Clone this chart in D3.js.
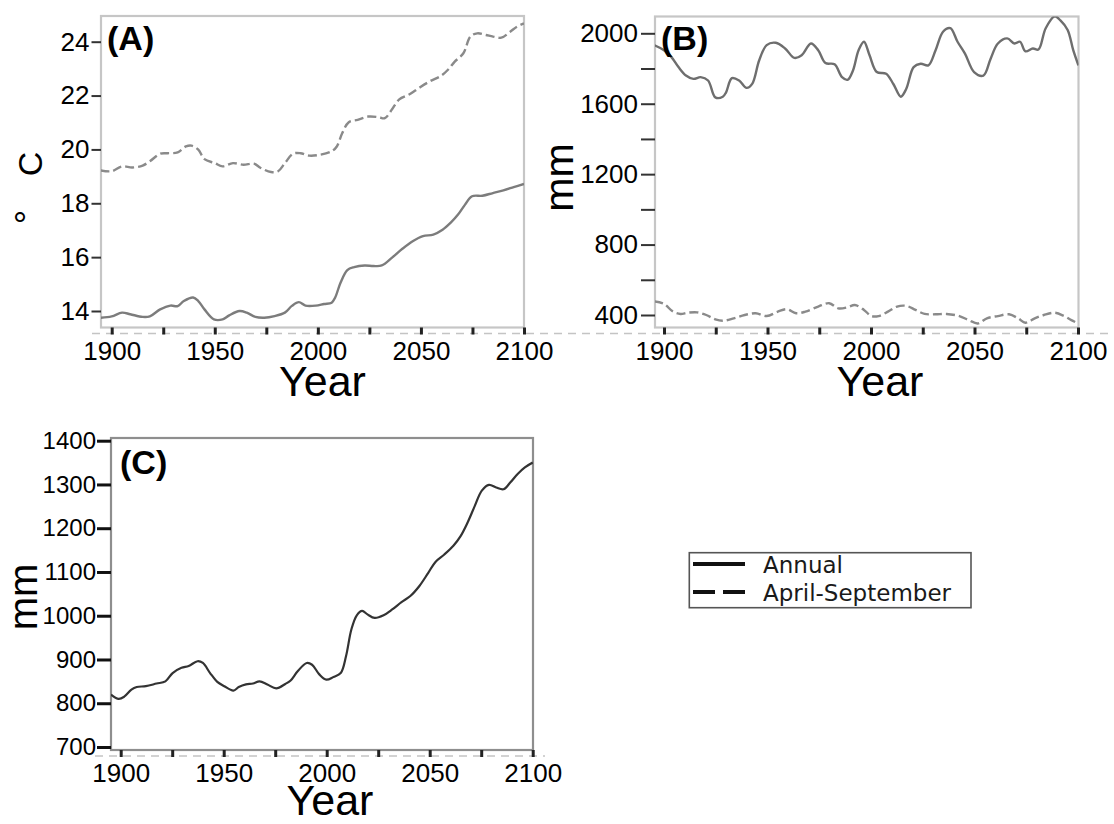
<!DOCTYPE html>
<html>
<head>
<meta charset="utf-8">
<script src="https://cdn.jsdelivr.net/npm/d3@7"></script>
<style>
  html, body { margin: 0; padding: 0; background: #fff; }
  svg { display: block; }
</style>
</head>
<body>
<svg id="chart" width="1114" height="824"></svg>
<script>
// ---- Data: [year, value] ----
// (A) temperature, °C
const tempAnnual = [
  [1894.5, 13.75], [1900, 13.8], [1905, 13.94], [1909, 13.88], [1915, 13.78], [1918.5, 13.8],
  [1923.5, 14.06], [1928.5, 14.2], [1932, 14.18], [1935, 14.37], [1939.5, 14.5], [1942, 14.37],
  [1945, 14.06], [1949.6, 13.69], [1953.8, 13.69], [1957, 13.84], [1962, 14.0], [1965.5, 13.94],
  [1969.7, 13.78], [1974, 13.75], [1979, 13.81], [1984, 13.94], [1987.4, 14.19], [1990.8, 14.33],
  [1994, 14.2], [1999, 14.2], [2003, 14.26], [2006.7, 14.31], [2008.4, 14.5], [2011, 15.05],
  [2014.3, 15.52], [2017.6, 15.63], [2022.7, 15.69], [2027, 15.67], [2031, 15.69], [2036, 15.98],
  [2041, 16.31], [2046, 16.59], [2051, 16.78], [2056, 16.84], [2060.5, 17.02], [2064.7, 17.3],
  [2068, 17.58], [2071.4, 17.95], [2074.8, 18.26], [2079.8, 18.28], [2084.9, 18.38], [2090, 18.48],
  [2095, 18.6], [2100, 18.72]
];
const tempAprSep = [
  [1894.5, 19.22], [1900, 19.19], [1905, 19.37], [1910, 19.33], [1915, 19.4], [1918.5, 19.56],
  [1923.5, 19.84], [1927, 19.86], [1932, 19.89], [1936, 20.11], [1938.7, 20.14], [1942, 19.99],
  [1945, 19.64], [1950, 19.49], [1953.8, 19.37], [1958.8, 19.49], [1963.9, 19.43], [1969, 19.47],
  [1972.3, 19.31], [1977.3, 19.16], [1980.7, 19.19], [1984, 19.49], [1988, 19.84], [1991.6, 19.86],
  [1995.8, 19.77], [2000.8, 19.8], [2006.7, 19.93], [2009.2, 20.11], [2011.8, 20.6], [2015, 21.01],
  [2019.3, 21.1], [2024.4, 21.22], [2029.4, 21.2], [2032.5, 21.16], [2036, 21.49], [2039.5, 21.86],
  [2044.5, 22.05], [2049.6, 22.31], [2054.6, 22.54], [2059.7, 22.73], [2063, 22.95], [2066.4, 23.26],
  [2070.6, 23.57], [2074, 24.19], [2077.3, 24.31], [2081.5, 24.25], [2085, 24.19], [2089, 24.15],
  [2093.3, 24.37], [2096.6, 24.56], [2100, 24.68]
];
// (B) precipitation, mm
const precipAnnual = [
  [1895.2, 1933], [1900, 1904], [1903.5, 1866], [1907, 1808], [1910.6, 1760], [1914.2, 1741],
  [1917.7, 1751], [1921.3, 1732], [1924.8, 1636], [1928.4, 1640], [1930, 1665], [1932.8, 1745],
  [1936.3, 1732], [1939.9, 1690], [1942.6, 1713], [1946, 1847], [1949.6, 1933], [1954, 1946],
  [1958.5, 1914], [1963, 1860], [1966.5, 1875], [1971, 1942], [1974.5, 1904], [1978, 1831],
  [1982.4, 1824], [1986, 1751], [1988.7, 1736], [1991.3, 1789], [1994, 1904], [1996.6, 1952],
  [1999.3, 1875], [2002.8, 1780], [2007.3, 1770], [2010.8, 1712], [2014.4, 1640], [2017, 1684],
  [2020.6, 1808], [2024, 1827], [2027.7, 1818], [2031.2, 1904], [2034.8, 2009], [2038.3, 2029],
  [2041.8, 1952], [2045.4, 1885], [2049.8, 1780], [2054.3, 1760], [2057.8, 1856], [2061.3, 1942],
  [2065.8, 1971], [2069.3, 1942], [2072, 1952], [2074.6, 1898], [2078.2, 1914], [2080.9, 1908],
  [2084.4, 2029], [2088.8, 2096], [2091.5, 2073], [2095, 2019], [2097.7, 1904], [2100.2, 1818]
];
const precipAprSep = [
  [1895.2, 477], [1900, 463], [1904.4, 419], [1908, 406], [1911.5, 413], [1916, 415],
  [1920.4, 400], [1924.8, 375], [1928.4, 367], [1933.7, 381], [1939, 400], [1944.3, 410],
  [1949.6, 394], [1955, 419], [1959.4, 433], [1963.8, 410], [1968.3, 419], [1974.5, 448],
  [1979.8, 467], [1984.2, 438], [1988.7, 444], [1992.2, 457], [1996.6, 429], [2000.2, 394],
  [2003.7, 394], [2008.2, 419], [2012.6, 448], [2017, 452], [2021.5, 429], [2025.9, 406],
  [2031.2, 404], [2036.5, 406], [2042.7, 394], [2047.2, 371], [2051.6, 352], [2056, 381],
  [2061.3, 394], [2066.7, 404], [2071.1, 381], [2074.6, 356], [2079.1, 381], [2083.5, 400],
  [2088.8, 413], [2093.3, 394], [2096.8, 371], [2100, 352]
];
// (C) annual series, mm
const panelCAnnual = [
  [1895.3, 820], [1899, 810], [1901.7, 815], [1905.2, 831], [1907.8, 837], [1912.2, 839],
  [1917.4, 845], [1921.7, 850], [1925.2, 869], [1929.5, 881], [1933, 885], [1937.3, 896],
  [1939.9, 892], [1943.4, 869], [1946.9, 849], [1950.3, 839], [1954.7, 829], [1957.3, 837],
  [1960.8, 843], [1964.2, 845], [1967.4, 850], [1971.2, 843], [1975.5, 834], [1979.9, 844],
  [1982.5, 852], [1985.9, 873], [1990.3, 892], [1992.9, 888], [1996.4, 866], [1999.8, 854],
  [2003.3, 860], [2006.8, 869], [2009.4, 908], [2012, 969], [2014.6, 1001], [2017.2, 1011],
  [2019.8, 1003], [2023.3, 995], [2027.6, 1001], [2032, 1015], [2036.3, 1031], [2040.6, 1045],
  [2045, 1068], [2049.3, 1098], [2052.8, 1123], [2057.1, 1140], [2061.5, 1160], [2065, 1182],
  [2068.4, 1213], [2071.9, 1251], [2075.3, 1286], [2078.8, 1299], [2082.3, 1293], [2085.8, 1289],
  [2089.2, 1305], [2092.7, 1324], [2096.2, 1339], [2100, 1350]
];

// Axis ticks
const xTicks = [1900, 1925, 1950, 1975, 2000, 2025, 2050, 2075, 2100];
const xLabels = [1900, 1950, 2000, 2050, 2100];
const tempTicks = [14, 16, 18, 20, 22, 24];
const precipTicks = [400, 600, 800, 1000, 1200, 1400, 1600, 1800, 2000];
const precipLabels = [400, 800, 1200, 1600, 2000];
const panelCTicks = [700, 800, 900, 1000, 1100, 1200, 1300, 1400];

const legendItems = ["Annual", "April-September"];

// ---- Drawing ----
const svg = d3.select("#chart");
const AXIS_FONT = "'Liberation Sans', Arial, Helvetica, sans-serif";

function drawPanel(cfg) {
  const g = svg.append("g");
  const x = d3.scaleLinear().domain([1900, 2100]).range(cfg.xRange);
  const y = d3.scaleLinear().domain(cfg.yDomain).range(cfg.yRange);
  const [bx0, bx1] = cfg.boxX, [by0, by1] = cfg.boxY;

  const clipId = "clip-" + cfg.id;
  svg.append("clipPath").attr("id", clipId)
    .append("rect").attr("x", bx0).attr("y", by0).attr("width", bx1 - bx0).attr("height", by1 - by0);

  // dashed guide just under the x axis
  g.append("line")
    .attr("x1", cfg.guide[0]).attr("x2", cfg.guide[1])
    .attr("y1", by1 + 6).attr("y2", by1 + 6)
    .attr("stroke", "#c4c4c4").attr("stroke-width", 1.5).attr("stroke-dasharray", "8,6");

  // frame
  g.append("rect")
    .attr("x", bx0).attr("y", by0).attr("width", bx1 - bx0).attr("height", by1 - by0)
    .attr("fill", "none").attr("stroke", cfg.frame).attr("stroke-width", 2.2);

  // series
  const line = d3.line().x(d => x(d[0])).y(d => y(d[1])).curve(d3.curveCatmullRom.alpha(0.5));
  cfg.series.forEach(s => {
    g.append("path")
      .attr("clip-path", `url(#${clipId})`)
      .attr("d", line(s.data))
      .attr("fill", "none")
      .attr("stroke", s.color)
      .attr("stroke-width", s.width)
      .attr("stroke-dasharray", s.dash || null)
      .attr("stroke-linejoin", "round");
  });

  // x axis
  const xAxis = d3.axisBottom(x)
    .tickValues(xTicks)
    .tickSize(7).tickSizeOuter(0).tickPadding(7)
    .tickFormat(d => xLabels.includes(d) ? String(d) : "");
  const gx = g.append("g").attr("transform", `translate(0,${by1})`).call(xAxis);
  gx.select(".domain").remove();
  gx.selectAll(".tick line").attr("stroke", "#222").attr("stroke-width", 3);
  gx.selectAll(".tick text").filter(function () { return this.textContent === ""; }).remove();
  gx.selectAll(".tick text").attr("fill", "#000").attr("font-family", AXIS_FONT).attr("font-size", 26);

  // y axis
  const yAxis = d3.axisLeft(y)
    .tickValues(cfg.yTicks)
    .tickSize(cfg.yTickSize).tickSizeOuter(0).tickPadding(cfg.yPad)
    .tickFormat(d => cfg.yLabels.includes(d) ? String(d) : "");
  const gy = g.append("g").attr("transform", `translate(${bx0},0)`).call(yAxis);
  gy.select(".domain").remove();
  gy.selectAll(".tick line").attr("stroke", cfg.yTickColor).attr("stroke-width", cfg.yTickWidth);
  gy.selectAll(".tick text").filter(function () { return this.textContent === ""; }).remove();
  gy.selectAll(".tick text").attr("fill", "#000").attr("font-family", AXIS_FONT).attr("font-size", cfg.yFont);

  // panel letter
  g.append("text")
    .attr("x", cfg.letterPos[0]).attr("y", cfg.letterPos[1])
    .attr("font-family", AXIS_FONT).attr("font-weight", "bold").attr("font-size", 34)
    .text(cfg.letter);

  // x title
  g.append("text")
    .attr("x", cfg.xTitlePos[0]).attr("y", cfg.xTitlePos[1])
    .attr("text-anchor", "middle")
    .attr("font-family", AXIS_FONT).attr("font-size", 43)
    .text("Year");

  // y title pieces (rotated)
  cfg.yTitle.forEach(t => {
    g.append("text")
      .attr("transform", `translate(${t.x},${t.y}) rotate(-90)`)
      .attr("text-anchor", "middle")
      .attr("font-family", AXIS_FONT).attr("font-size", t.size)
      .text(t.text);
  });
}

// (A)
drawPanel({
  id: "a",
  boxX: [101, 524], boxY: [16, 327.5],
  xRange: [111.7, 524],
  yDomain: [14, 24], yRange: [311, 41.7],
  yTicks: tempTicks, yLabels: tempTicks,
  yTickSize: 9.5, yPad: 2, yTickColor: "#333", yTickWidth: 2, yFont: 26,
  frame: "#c6c6c6",
  guide: [92, 540],
  series: [
    { data: tempAnnual, color: "#7c7c7c", width: 2.4 },
    { data: tempAprSep, color: "#8a8a8a", width: 2.4, dash: "9,4" }
  ],
  letter: "(A)", letterPos: [107, 50],
  xTitlePos: [322.5, 396],
  yTitle: [
    { text: "C", x: 42, y: 164, size: 34 },
    { text: "°", x: 41, y: 217, size: 36 }
  ]
});

// (B)
drawPanel({
  id: "b",
  boxX: [655, 1078.5], boxY: [16.5, 327.5],
  xRange: [664, 1078],
  yDomain: [400, 2000], yRange: [315, 33.3],
  yTicks: precipTicks, yLabels: precipLabels,
  yTickSize: 14, yPad: 3, yTickColor: "#333", yTickWidth: 2, yFont: 26,
  frame: "#c6c6c6",
  guide: [540, 1114],
  series: [
    { data: precipAnnual, color: "#6e6e6e", width: 2.4 },
    { data: precipAprSep, color: "#8a8a8a", width: 2.4, dash: "9,4" }
  ],
  letter: "(B)", letterPos: [661, 50],
  xTitlePos: [880, 396],
  yTitle: [
    { text: "mm", x: 573, y: 177.5, size: 41 }
  ]
});

// (C)
drawPanel({
  id: "c",
  boxX: [111, 533], boxY: [438, 750],
  xRange: [120.7, 532.7],
  yDomain: [700, 1400], yRange: [747, 440.7],
  yTicks: panelCTicks, yLabels: panelCTicks,
  yTickSize: 14, yPad: 1, yTickColor: "#111", yTickWidth: 3, yFont: 24,
  frame: "#8e8e8e",
  guide: [95, 545],
  series: [
    { data: panelCAnnual, color: "#333", width: 2.2 }
  ],
  letter: "(C)", letterPos: [120, 474],
  xTitlePos: [330, 815],
  yTitle: [
    { text: "mm", x: 37, y: 597, size: 40 }
  ]
});

// ---- Legend ----
const legend = svg.append("g");
legend.append("rect")
  .attr("x", 689.3).attr("y", 552.7).attr("width", 281.7).attr("height", 55)
  .attr("fill", "none").attr("stroke", "#555").attr("stroke-width", 1.6);
const legendRows = legend.selectAll("g.row").data(legendItems).join("g")
  .attr("class", "row")
  .attr("transform", (d, i) => `translate(0,${i * 28})`);
legendRows.append("line")
  .attr("x1", 693).attr("x2", 745).attr("y1", 564).attr("y2", 564)
  .attr("stroke", "#111").attr("stroke-width", 4)
  .attr("stroke-dasharray", (d, i) => i === 1 ? "22,8" : null);
legendRows.append("text")
  .attr("x", 763).attr("y", 573)
  .attr("font-family", "'DejaVu Sans', sans-serif").attr("font-size", 23)
  .attr("fill", "#1a1a1a")
  .text(d => d);
</script>
</body>
</html>
